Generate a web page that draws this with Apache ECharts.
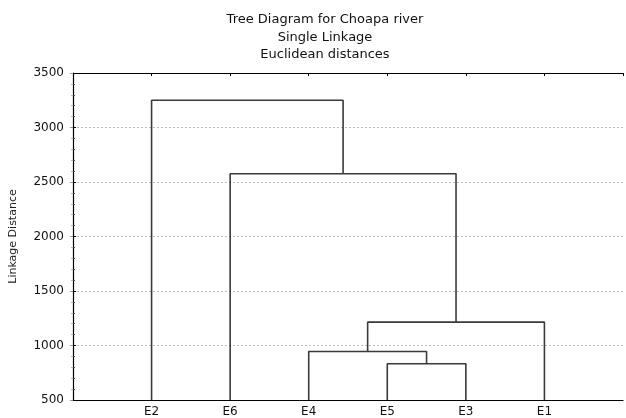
<!DOCTYPE html>
<html><head><meta charset="utf-8">
<script src="https://cdn.jsdelivr.net/npm/echarts@6/dist/echarts.min.js"></script>
<style>html,body{margin:0;padding:0;background:#fff}#c{width:626px;height:418px}</style>
</head><body><div id="c"></div>
<script>
const titleLines = ['Tree Diagram for Choapa river', 'Single Linkage', 'Euclidean distances'];
const yAxisName = 'Linkage Distance';
const leaves = ['E2', 'E6', 'E4', 'E5', 'E3', 'E1'];
// merges: each produces cluster C0, C1, ...
const mergeLeft = ['E5', 'E4', 'C1', 'E6', 'E2'];
const mergeRight = ['E3', 'C0', 'E1', 'C2', 'C3'];
const mergeHeight = [833, 945, 1214, 2576, 3250];
const yMin = 500, yMax = 3500, yStep = 500;

const pos = {}, hgt = {};
leaves.forEach((n, i) => { pos[n] = i + 1; hgt[n] = yMin; });
const series = [];
mergeLeft.forEach((a, i) => {
  const b = mergeRight[i], h = mergeHeight[i];
  const xa = pos[a], xb = pos[b];
  series.push({
    type: 'line', xAxisIndex: 0, yAxisIndex: 0, symbol: 'none', silent: true,
    lineStyle: { color: '#3a3a3a', width: 1.6 },
    data: [[xa, hgt[a]], [xa, h], [xb, h], [xb, hgt[b]]]
  });
  pos['C' + i] = (xa + xb) / 2; hgt['C' + i] = h;
});

const chart = echarts.init(document.getElementById('c'));
const font = 'DejaVu Sans, Liberation Sans, sans-serif';
chart.setOption({
  animation: false,
  title: {
    text: titleLines.join('\n'), left: 320, top: 6, textAlign: 'center',
    textStyle: { fontFamily: font, fontSize: 13, fontWeight: 'normal', color: '#111', lineHeight: 17.5 }
  },
  grid: { left: 72, right: 1, top: 73, bottom: 17, containLabel: false },
  xAxis: [{
    type: 'value', min: 0, max: leaves.length + 1, interval: 1, position: 'bottom',
    axisLine: { show: true, lineStyle: { color: '#000', width: 1.2 } },
    axisTick: { show: false },
    splitLine: { show: false },
    axisLabel: { fontFamily: font, fontSize: 12, color: '#111', margin: 6,
      formatter: v => leaves[v - 1] || '' }
  }, {
    type: 'value', min: 0, max: leaves.length + 1, interval: 1, position: 'top',
    axisLine: { show: true, lineStyle: { color: '#000', width: 1.2 } },
    axisTick: { show: true, inside: true, length: 3, lineStyle: { color: '#000' } },
    axisLabel: { show: false }, splitLine: { show: false }
  }],
  yAxis: [{
    type: 'value', min: yMin, max: yMax, interval: yStep, position: 'left',
    name: yAxisName, nameLocation: 'middle', nameGap: 54, nameRotate: 90,
    nameTextStyle: { fontFamily: font, fontSize: 11, color: '#222' },
    axisLine: { show: true, lineStyle: { color: '#000', width: 1.2 } },
    axisTick: { show: true, inside: true, length: 3, lineStyle: { color: '#000' } },
    minorTick: { show: true, splitNumber: 5, length: 2, lineStyle: { color: '#444' } },
    axisLabel: { fontFamily: font, fontSize: 12, color: '#111', margin: 9,
      formatter: v => String(v) },
    splitLine: { show: true, lineStyle: { color: '#bbb', type: [2, 2], width: 1 } }
  }, {
    type: 'value', min: yMin, max: yMax, interval: yStep, position: 'right',
    axisLine: { show: false },
    axisTick: { show: true, inside: true, length: 3, lineStyle: { color: '#999' } },
    minorTick: { show: true, splitNumber: 5, length: 2, lineStyle: { color: '#bbb' } },
    axisLabel: { show: false }, splitLine: { show: false }
  }],
  series: series
});
</script></body></html>
